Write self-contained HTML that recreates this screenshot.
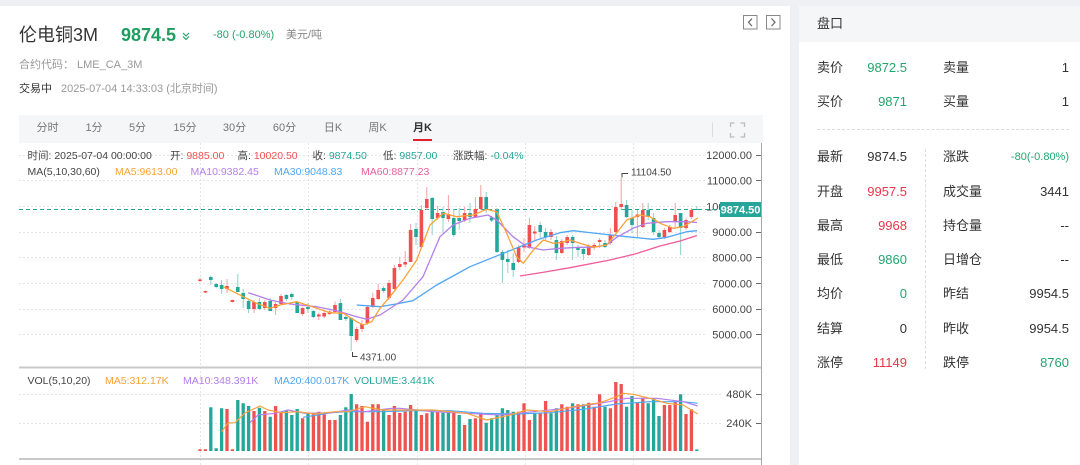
<!DOCTYPE html>
<html><head><meta charset="utf-8"><style>
*{margin:0;padding:0;box-sizing:border-box}
body{width:1080px;height:465px;overflow:hidden;background:#eef0f3;font-family:"Liberation Sans","Noto Sans CJK SC",sans-serif;position:relative}
.a{position:absolute;white-space:nowrap}
.lp{position:absolute;left:0;top:6px;width:790px;height:459px;background:#fff}
.rp{position:absolute;left:799px;top:6px;width:281px;height:459px;background:#fff}
.rh{position:absolute;left:799px;top:6px;width:281px;height:36px;background:#f5f6f8}
.lb{font-size:13px;color:#333;line-height:16px}
.v{font-size:13px;line-height:16px;text-align:right}
.g{color:#22a56d}.r{color:#e8364a}.k{color:#333}
.tab{position:absolute;top:121px;font-size:11px;color:#777;line-height:14px;transform:translateX(-50%)}
</style></head><body>
<div class="lp"></div>
<div class="rp"></div>
<div class="rh"></div>

<div class="a" style="left:19px;top:24px;font-size:18px;line-height:22px;color:#333">伦电铜3M</div>
<div class="a" style="left:121px;top:24px;font-size:18px;line-height:22px;color:#1f9d5f;font-weight:bold">9874.5</div>
<div class="a" style="left:213px;top:29px;font-size:11px;line-height:13px;color:#22a56d">-80 (-0.80%)</div>
<div class="a" style="left:286px;top:29px;font-size:11px;line-height:13px;color:#888">美元/吨</div>
<div class="a" style="left:19px;top:58px;font-size:11px;line-height:14px;color:#999">合约代码：</div>
<div class="a" style="left:77px;top:58px;font-size:11px;line-height:14px;color:#999">LME_CA_3M</div>
<div class="a" style="left:19px;top:82px;font-size:11px;line-height:14px;color:#333">交易中</div>
<div class="a" style="left:61px;top:82px;font-size:11px;line-height:14px;color:#999">2025-07-04 14:33:03 (北京时间)</div>

<div class="a" style="left:19px;top:115px;width:744px;height:28px;background:#f5f6f8"></div>
<div class="tab" style="left:47.5px">分时</div>
<div class="tab" style="left:94px">1分</div>
<div class="tab" style="left:137.5px">5分</div>
<div class="tab" style="left:185px">15分</div>
<div class="tab" style="left:234.5px">30分</div>
<div class="tab" style="left:284.5px">60分</div>
<div class="tab" style="left:333px">日K</div>
<div class="tab" style="left:377.5px">周K</div>
<div class="tab" style="left:422.5px;color:#333;font-weight:bold">月K</div>
<div class="a" style="left:413px;top:139px;width:19px;height:2px;background:#e0202a"></div>

<div class="a lb" style="left:817px;top:16px">盘口</div>
<div class="a" style="left:817px;top:129px;width:252px;border-top:1px dashed #dcdcdc"></div>
<div class="a" style="left:925px;top:149px;height:220px;border-left:1px dashed #dcdcdc"></div>

<div class="a lb" style="left:817px;top:60px">卖价</div><div class="a v g" style="right:173px;top:60px">9872.5</div>
<div class="a lb" style="left:943px;top:60px">卖量</div><div class="a v k" style="right:11px;top:60px">1</div>
<div class="a lb" style="left:817px;top:94px">买价</div><div class="a v g" style="right:173px;top:94px">9871</div>
<div class="a lb" style="left:943px;top:94px">买量</div><div class="a v k" style="right:11px;top:94px">1</div>

<div class="a lb" style="left:817px;top:149px">最新</div><div class="a v k" style="right:173px;top:149px">9874.5</div>
<div class="a lb" style="left:943px;top:149px">涨跌</div><div class="a v g" style="right:11px;top:150px;font-size:11px;line-height:14px">-80(-0.80%)</div>
<div class="a lb" style="left:817px;top:183.5px">开盘</div><div class="a v r" style="right:173px;top:183.5px">9957.5</div>
<div class="a lb" style="left:943px;top:183.5px">成交量</div><div class="a v k" style="right:11px;top:183.5px">3441</div>
<div class="a lb" style="left:817px;top:217.5px">最高</div><div class="a v r" style="right:173px;top:217.5px">9968</div>
<div class="a lb" style="left:943px;top:217.5px">持仓量</div><div class="a v k" style="right:11px;top:217.5px">--</div>
<div class="a lb" style="left:817px;top:252px">最低</div><div class="a v g" style="right:173px;top:252px">9860</div>
<div class="a lb" style="left:943px;top:252px">日增仓</div><div class="a v k" style="right:11px;top:252px">--</div>
<div class="a lb" style="left:817px;top:286px">均价</div><div class="a v g" style="right:173px;top:286px">0</div>
<div class="a lb" style="left:943px;top:286px">昨结</div><div class="a v k" style="right:11px;top:286px">9954.5</div>
<div class="a lb" style="left:817px;top:321px">结算</div><div class="a v k" style="right:173px;top:321px">0</div>
<div class="a lb" style="left:943px;top:321px">昨收</div><div class="a v k" style="right:11px;top:321px">9954.5</div>
<div class="a lb" style="left:817px;top:354.5px">涨停</div><div class="a v r" style="right:173px;top:354.5px">11149</div>
<div class="a lb" style="left:943px;top:354.5px">跌停</div><div class="a v g" style="right:11px;top:354.5px">8760</div>

<svg class="a" style="left:0;top:0" width="1080" height="465" viewBox="0 0 1080 465" font-family="Liberation Sans, Noto Sans CJK SC, sans-serif">
<path d="M183 33l3 3 3-3M183 36.5l3 3 3-3" fill="none" stroke="#1f9d5f" stroke-width="1.1"/>
<rect x="743.5" y="15.5" width="13.5" height="13.5" fill="#fff" stroke="#888"/>
<rect x="766.5" y="15.5" width="13.5" height="13.5" fill="#fff" stroke="#888"/>
<path d="M752 18.5l-3.5 3.8 3.5 3.8M771.5 18.5l3.5 3.8-3.5 3.8" fill="none" stroke="#666" stroke-width="1.2"/>
<line x1="712.5" y1="122.5" x2="712.5" y2="137" stroke="#dcdcdc"/>
<path d="M730.5 127v-4h4M740.5 123h4v4M744.5 133v4h-4M734.5 137h-4v-4" fill="none" stroke="#bbb" stroke-width="1.3"/>

<g stroke="#e4e4e4" stroke-dasharray="2,2" stroke-width="1">
<path d="M200.5 143V465M308.5 143V465M417.5 143V465M525.5 143V465M633.5 143V465"/>
<path d="M19 155.5H705M19 180.5H705M19 206.5H705M19 232.5H705M19 257.5H705M19 283.5H705M19 309.5H705M19 334.5H705"/>
<path d="M19 394.5H722M19 423.5H722"/>
</g>

<line x1="19" y1="367.5" x2="762" y2="367.5" stroke="#c9c9c9" stroke-width="2"/>
<line x1="19" y1="459" x2="762" y2="459" stroke="#c9c9c9" stroke-width="2"/>
<line x1="761.5" y1="143" x2="761.5" y2="465" stroke="#a8a8a8"/>

<g font-size="11" fill="#444" text-anchor="end">
<text x="752" y="159">12000.00</text>
<text x="752" y="184.7">11000.00</text>
<text x="752" y="210.3">10000.00</text>
<text x="752" y="236">9000.00</text>
<text x="752" y="261.7">8000.00</text>
<text x="752" y="287.4">7000.00</text>
<text x="752" y="313">6000.00</text>
<text x="752" y="338.7">5000.00</text>
<text x="752" y="398">480K</text>
<text x="752" y="427">240K</text>
</g>
<path d="M756 155.5h5M756 180.5h5M756 206.5h5M756 232.5h5M756 257.5h5M756 283.5h5M756 309.5h5M756 334.5h5M756 394.5h5M756 423.5h5" stroke="#666"/>

<line x1="19" y1="209.5" x2="720" y2="209.5" stroke="#26a69a" stroke-dasharray="4,3"/>
<rect x="720" y="202" width="41" height="15" fill="#26a69a"/>
<text x="740.5" y="213.5" font-size="11" fill="#fff" text-anchor="middle" font-weight="bold">9874.50</text>

<g font-size="10.5" fill="#444">
<text x="27.5" y="159">时间: 2025-07-04 00:00:00</text>
<text x="170" y="159">开: <tspan fill="#f0514f">9885.00</tspan></text>
<text x="237.5" y="159">高: <tspan fill="#f0514f">10020.50</tspan></text>
<text x="312.5" y="159">收: <tspan fill="#26a69a">9874.50</tspan></text>
<text x="383" y="159">低: <tspan fill="#26a69a">9857.00</tspan></text>
<text x="453" y="159">涨跌幅: <tspan fill="#26a69a">-0.04%</tspan></text>
<text x="27.5" y="175">MA(5,10,30,60)</text>
<text x="115" y="175" fill="#f9a23a">MA5:9613.00</text>
<text x="190.5" y="175" fill="#b37feb">MA10:9382.45</text>
<text x="274" y="175" fill="#4ea6f5">MA30:9048.83</text>
<text x="361" y="175" fill="#ef5b9c">MA60:8877.23</text>
<text x="27.5" y="384">VOL(5,10,20)</text>
<text x="105" y="384" fill="#f9a23a">MA5:312.17K</text>
<text x="183" y="384" fill="#b37feb">MA10:348.391K</text>
<text x="274" y="384" fill="#4ea6f5">MA20:400.017K</text>
<text x="354" y="384" fill="#26a69a">VOLUME:3.441K</text>
</g>

<path fill="#ef5350" d="M198.35 449.3h3.3V451h-3.3zM203.75 449.3h3.3V451h-3.3zM225.35 409h3.3V451h-3.3zM230.75 449.3h3.3V451h-3.3zM252.35 411h3.3V451h-3.3zM263.15 411h3.3V451h-3.3zM273.95 406h3.3V451h-3.3zM279.35 412.7h3.3V451h-3.3zM300.95 418.3h3.3V451h-3.3zM311.75 412.7h3.3V451h-3.3zM317.15 411.7h3.3V451h-3.3zM322.55 414.3h3.3V451h-3.3zM327.95 420h3.3V451h-3.3zM333.35 420h3.3V451h-3.3zM354.95 404.3h3.3V451h-3.3zM360.35 406h3.3V451h-3.3zM365.75 421.7h3.3V451h-3.3zM371.15 404.3h3.3V451h-3.3zM376.55 404.3h3.3V451h-3.3zM387.35 415h3.3V451h-3.3zM392.75 406h3.3V451h-3.3zM398.15 413h3.3V451h-3.3zM403.55 411.7h3.3V451h-3.3zM408.95 405h3.3V451h-3.3zM419.75 415h3.3V451h-3.3zM425.15 413.3h3.3V451h-3.3zM435.95 412.3h3.3V451h-3.3zM452.15 412.7h3.3V451h-3.3zM462.95 425h3.3V451h-3.3zM473.75 418.3h3.3V451h-3.3zM479.15 412.7h3.3V451h-3.3zM516.95 411.7h3.3V451h-3.3zM522.35 403.3h3.3V451h-3.3zM527.75 420h3.3V451h-3.3zM538.55 412.7h3.3V451h-3.3zM543.95 401h3.3V451h-3.3zM560.15 404.3h3.3V451h-3.3zM565.55 406.7h3.3V451h-3.3zM576.35 404.3h3.3V451h-3.3zM587.15 402.7h3.3V451h-3.3zM592.55 406.7h3.3V451h-3.3zM597.95 394.3h3.3V451h-3.3zM608.75 408.3h3.3V451h-3.3zM614.15 382h3.3V451h-3.3zM619.55 384h3.3V451h-3.3zM635.75 402.7h3.3V451h-3.3zM641.15 397.7h3.3V451h-3.3zM662.75 405h3.3V451h-3.3zM668.15 405h3.3V451h-3.3zM673.55 401.7h3.3V451h-3.3zM684.35 414h3.3V451h-3.3zM689.75 409.3h3.3V451h-3.3z"/>
<path fill="#26a69a" d="M209.15 407.3h3.3V451h-3.3zM214.55 448.3h3.3V451h-3.3zM219.95 408.3h3.3V451h-3.3zM236.15 400h3.3V451h-3.3zM241.55 403.3h3.3V451h-3.3zM246.95 406h3.3V451h-3.3zM257.75 407.7h3.3V451h-3.3zM268.55 416.7h3.3V451h-3.3zM284.75 410.7h3.3V451h-3.3zM290.15 415h3.3V451h-3.3zM295.55 409h3.3V451h-3.3zM306.35 413.3h3.3V451h-3.3zM338.75 415h3.3V451h-3.3zM344.15 407.3h3.3V451h-3.3zM349.55 394h3.3V451h-3.3zM381.95 409.3h3.3V451h-3.3zM414.35 409.3h3.3V451h-3.3zM430.55 411.7h3.3V451h-3.3zM441.35 412.7h3.3V451h-3.3zM446.75 412.7h3.3V451h-3.3zM457.55 415h3.3V451h-3.3zM468.35 419h3.3V451h-3.3zM484.55 422.7h3.3V451h-3.3zM489.95 418.3h3.3V451h-3.3zM495.35 415h3.3V451h-3.3zM500.75 408.3h3.3V451h-3.3zM506.15 410h3.3V451h-3.3zM511.55 411.7h3.3V451h-3.3zM533.15 412.7h3.3V451h-3.3zM549.35 413.3h3.3V451h-3.3zM554.75 408.3h3.3V451h-3.3zM570.95 403.3h3.3V451h-3.3zM581.75 404.3h3.3V451h-3.3zM603.35 406.7h3.3V451h-3.3zM624.95 406.7h3.3V451h-3.3zM630.35 396h3.3V451h-3.3zM646.55 403.3h3.3V451h-3.3zM651.95 398.3h3.3V451h-3.3zM657.35 416h3.3V451h-3.3zM678.95 394.3h3.3V451h-3.3zM695.15 449.5h3.3V451h-3.3z"/>

<g fill="none" stroke-width="1.2" stroke-linejoin="round">
<polyline stroke="#4ea6f5" points="303,417.3 331.7,412.7 348,411.7 381.7,411.7 415,410.7 450,410.7 483,413.3 516.7,414 550,412.7 583.3,409.3 616.7,404 650,401.7 683.3,401.7 697.7,403.3"/>
<polyline stroke="#b37feb" points="250,422.7 258,415 275,413.3 288,410 305,413.3 331.7,412.7 348,410 365,411.7 391.7,408.3 400,408.3 433,411.7 466.7,413.3 500,415 533.3,411.7 566.7,408.3 600,403.3 626.7,398.3 656.7,398.3 683.3,401.7 697.7,406"/>
<polyline stroke="#f9a23a" points="221.7,431.7 228,423 235,422.7 245,413 260,406 268,410 281.7,412.7 298,411.7 315,414 335,411.7 348,411.7 365,406.7 381.7,410 398,410 433,410 466.7,413.3 486.7,420 510,415 526.7,410 550,411.7 573.3,406.7 600,402.7 616.7,396.7 623.3,393.3 633.3,394.3 650,398.3 666.7,403.3 683.3,405 697.7,414"/>
</g>

<path fill="none" stroke="#f4a3a3" stroke-width="1" d="M200 278V282M205.4 290.5V293M227 279V293M232.4 299.5V302.5M254 300V313M264.8 300V310M275.6 302V315M281 294V305M302.6 306.5V316M318.8 312.5V320M324.2 310V318M329.6 309V315M335 301.5V313M356.6 327V342M362 320V332M367.4 305V325M372.8 293V308M378.2 284V300M389 280V300M394.4 265V290M399.8 257V270M405.2 251V267M410.6 224V262M421.4 205V247M426.8 187V210M437.6 206V220M448.4 195V222M464.6 207V222M475.4 197V218M480.8 185V210M518.6 245V263M524 238V252M529.4 218V249M534.8 226V240M551 229V240M561.8 239V254M567.2 235V245M588.8 244V256M594.2 243V250M599.6 238V248M610.4 228V245M615.8 202V233M621.2 178V210M637.4 210V238M642.8 203V228M664.4 228V239M669.8 225V233M675.2 203V227M686 218V230M691.4 208V219"/>
<path fill="none" stroke="#8fd0c8" stroke-width="1" d="M210.8 275.5V285M216.2 283V288M221.6 280V294M237.8 274V292M243.2 289V308M248.6 299V313M259.4 298V310M270.2 298V311M286.4 294V301M291.8 292.5V300M297.2 301V313M308 303V313M313.4 310V318M340.4 299V320M345.8 315V321M351.2 318V351M383.6 286V293M416 223V245M432.2 197V235M443 207V233M453.8 209V237M459.2 208V230M470 203V223M486.2 192V213M491.6 216V222M497 208V253M502.4 250V283M507.8 250V273M513.2 253V277M540.2 222V238M545.6 228V240M556.4 236V260M572.6 235V260M578 245V257M583.4 247V260M605 240V248M626.6 200V218M632 210V233M648.2 203V220M653.6 213V235M659 230V238M680.6 213V255M696.8 206V210"/>

<path fill="#ef4f4f" d="M198.2 279.5h3.6V281h-3.6zM203.6 291h3.6V292.5h-3.6zM225.2 286h3.6V289h-3.6zM230.6 300h3.6V302h-3.6zM252.2 302h3.6V309h-3.6zM263 302h3.6V308h-3.6zM273.8 304h3.6V308h-3.6zM279.2 296h3.6V304h-3.6zM300.8 308h3.6V314h-3.6zM317 314.5h3.6V316.5h-3.6zM322.4 313h3.6V316.5h-3.6zM327.8 311.5h3.6V314h-3.6zM333.2 305h3.6V312h-3.6zM354.8 329h3.6V340h-3.6zM360.2 324h3.6V329h-3.6zM365.6 307h3.6V323h-3.6zM371 298h3.6V307h-3.6zM376.4 290h3.6V299h-3.6zM387.2 283h3.6V298h-3.6zM392.6 268h3.6V289h-3.6zM398 264h3.6V267h-3.6zM403.4 262h3.6V264.5h-3.6zM408.8 230h3.6V262h-3.6zM419.6 210h3.6V247h-3.6zM425 199h3.6V208h-3.6zM435.8 213h3.6V218h-3.6zM446.6 214h3.6V219h-3.6zM462.8 213h3.6V220h-3.6zM473.6 209h3.6V217h-3.6zM479 197h3.6V209h-3.6zM516.8 247h3.6V262h-3.6zM522.2 245h3.6V247.5h-3.6zM527.6 225h3.6V248h-3.6zM533 231.5h3.6V233.5h-3.6zM549.2 232h3.6V237h-3.6zM560 241h3.6V253h-3.6zM565.4 237h3.6V243h-3.6zM587 246h3.6V255h-3.6zM592.4 245h3.6V247.5h-3.6zM597.8 240h3.6V242h-3.6zM608.6 235h3.6V243h-3.6zM614 207h3.6V232h-3.6zM619.4 204h3.6V207h-3.6zM635.6 214.5h3.6V217h-3.6zM641 210h3.6V227h-3.6zM662.6 230h3.6V237h-3.6zM668 227h3.6V232h-3.6zM673.4 215h3.6V222h-3.6zM684.2 220h3.6V228h-3.6zM689.6 210h3.6V217h-3.6z"/>
<path fill="#26a69a" d="M209 277h3.6V280h-3.6zM214.4 284h3.6V287h-3.6zM219.8 285h3.6V289h-3.6zM236 287h3.6V292h-3.6zM241.4 293h3.6V299h-3.6zM246.8 301h3.6V309h-3.6zM257.6 302h3.6V309h-3.6zM268.4 301h3.6V311h-3.6zM284.6 295h3.6V299h-3.6zM290 294h3.6V297h-3.6zM295.4 302h3.6V313h-3.6zM306.2 307h3.6V309h-3.6zM311.6 311h3.6V317h-3.6zM338.6 303h3.6V320h-3.6zM344 317h3.6V319h-3.6zM349.4 318h3.6V336h-3.6zM381.8 288h3.6V291h-3.6zM414.2 229h3.6V237h-3.6zM430.4 198h3.6V219h-3.6zM441.2 212h3.6V218h-3.6zM452 218h3.6V235h-3.6zM457.4 218h3.6V221h-3.6zM468.2 213h3.6V217h-3.6zM484.4 197h3.6V209h-3.6zM489.8 217.5h3.6V220.5h-3.6zM495.2 210h3.6V252h-3.6zM500.6 252h3.6V260h-3.6zM506 259h3.6V262h-3.6zM511.4 263h3.6V270h-3.6zM538.4 225h3.6V232h-3.6zM543.8 232h3.6V237h-3.6zM554.6 240h3.6V253h-3.6zM570.8 237h3.6V243h-3.6zM576.2 247h3.6V250h-3.6zM581.6 249h3.6V254h-3.6zM603.2 243h3.6V247h-3.6zM624.8 205h3.6V217h-3.6zM630.2 218h3.6V225h-3.6zM646.4 210h3.6V217h-3.6zM651.8 218h3.6V232h-3.6zM657.2 233h3.6V237h-3.6zM678.8 213h3.6V228h-3.6zM695 209h3.6V210h-3.6z"/>

<g fill="none" stroke-width="1.3" stroke-linejoin="round">
<polyline stroke="#ef5b9c" points="520,276 545,272 570,267.7 610,260 635,254 660,246 680,241 697,235.5"/>
<polyline stroke="#4ea6f5" points="356.7,305 380,306.7 396,304 413,300.7 436.7,285 470,266.7 503.3,253.3 536.7,240 560,232.7 573.3,230.7 593,233 626.7,236.7 653,239.3 667,237.3 686.7,231.7 697,230.7"/>
<polyline stroke="#b37feb" points="248.3,292.7 270,300 290,304 316.7,306.7 336.7,310.7 356.7,316.7 366.7,319.3 380,315 403,300 423,276.7 440,236.7 453,225 470,218.3 488,215 496.7,220 513,236.7 526.7,246.7 543,250 560,248.3 580,247.3 593,247.3 606.7,245 616.7,237.3 633,228.3 646.7,223.3 666.7,221.7 686.7,221.7 697,222.5"/>
<polyline stroke="#f9a23a" points="223.3,286.7 243.3,296.7 256.7,303.3 270,308.3 280,305 296.7,301.7 310,306 330,312.7 343.3,313.3 356.7,321.7 363.3,325 371.7,321.7 380,308.3 390,296.7 403,280 416.7,260 430,225 443.3,213.3 456.7,216.7 473.3,215 486.7,209.3 496.7,211.7 506.7,233.3 516.7,256.7 523.3,263.3 533.3,250 543.3,240 553.3,243.3 560,242.7 570,240 580,243.3 593.3,247.3 606.7,245 615,235 626.7,220 640,215 650,216.7 660,223.3 673.3,228.3 683.3,226.7 698,218"/>
</g>

<path d="M628 173.5h-6v4" fill="none" stroke="#444" stroke-width="1"/>
<text x="631" y="175.5" font-size="10" fill="#444">11104.50</text>
<path d="M352.5 352v4.5h5" fill="none" stroke="#444" stroke-width="1"/>
<text x="360" y="360.5" font-size="10" fill="#444">4371.00</text>
</svg>
</body></html>
